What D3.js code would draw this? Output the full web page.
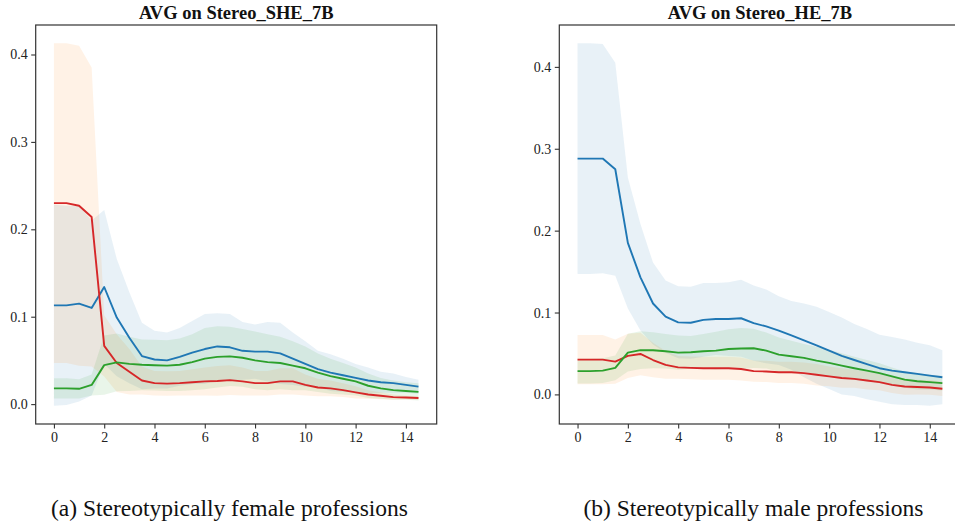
<!DOCTYPE html>
<html>
<head>
<meta charset="utf-8">
<script src="https://cdn.jsdelivr.net/npm/d3@7"></script>
<style>
  body { margin: 0; background: #fff; overflow: hidden; }
  svg { display: block; }
</style>
</head>
<body>
<script>
// layer steps on the x axis
const steps = [0, 0.5, 1, 1.5, 2, 2.5, 3, 3.5, 4, 4.5, 5, 5.5, 6, 6.5, 7, 7.5,
  8, 8.5, 9, 9.5, 10, 10.5, 11, 11.5, 12, 12.5, 13, 13.5, 14, 14.5];
const xTicks = [0, 2, 4, 6, 8, 10, 12, 14];
const yTicks = [0, 0.1, 0.2, 0.3, 0.4];

// (a) Stereo_SHE_7B : mean and std of each series
const sheBlue = [0.113, 0.113, 0.115, 0.110, 0.134, 0.099, 0.076, 0.055, 0.051, 0.050, 0.054, 0.059, 0.063, 0.066, 0.065,
  0.061, 0.060, 0.060, 0.058, 0.052, 0.046, 0.040, 0.036, 0.033, 0.030, 0.027, 0.025, 0.024, 0.022, 0.020];
const sheBlueStd = [0.115, 0.114, 0.112, 0.100, 0.088, 0.067, 0.052, 0.038, 0.033, 0.032, 0.033, 0.036, 0.040, 0.038, 0.038,
  0.033, 0.031, 0.034, 0.035, 0.030, 0.026, 0.021, 0.021, 0.019, 0.016, 0.015, 0.012, 0.011, 0.009, 0.008];
const sheGreen = [0.018, 0.018, 0.0175, 0.022, 0.0446, 0.0477, 0.046, 0.045, 0.0445, 0.044, 0.045, 0.048, 0.052, 0.054, 0.0546,
  0.053, 0.050, 0.048, 0.047, 0.044, 0.041, 0.036, 0.032, 0.029, 0.026, 0.021, 0.018, 0.016, 0.015, 0.014];
const sheGreenStd = [0.0115, 0.0115, 0.011, 0.012, 0.034, 0.033, 0.031, 0.029, 0.029, 0.029, 0.030, 0.032, 0.035, 0.035, 0.034,
  0.033, 0.033, 0.032, 0.030, 0.028, 0.025, 0.022, 0.020, 0.018, 0.016, 0.014, 0.012, 0.011, 0.010, 0.010];
const sheRed = [0.230, 0.230, 0.227, 0.214, 0.0667, 0.047, 0.037, 0.027, 0.024, 0.0235, 0.024, 0.025, 0.026, 0.0265, 0.0275,
  0.026, 0.024, 0.024, 0.026, 0.026, 0.022, 0.019, 0.018, 0.016, 0.0134, 0.011, 0.0095, 0.008, 0.0075, 0.007];
const sheRedStd = [0.183, 0.183, 0.183, 0.171, 0.035, 0.033, 0.026, 0.016, 0.014, 0.014, 0.014, 0.015, 0.016, 0.017, 0.017,
  0.016, 0.014, 0.014, 0.015, 0.015, 0.012, 0.010, 0.009, 0.008, 0.007, 0.005, 0.004, 0.003, 0.002, 0.002];

// (b) Stereo_HE_7B
const heBlue = [0.288, 0.288, 0.288, 0.275, 0.185, 0.143, 0.111, 0.095, 0.088, 0.0875, 0.091, 0.092, 0.092, 0.093, 0.087,
  0.083, 0.078, 0.072, 0.066, 0.060, 0.0535, 0.047, 0.042, 0.037, 0.032, 0.029, 0.027, 0.025, 0.023, 0.021];
const heBlueStd = [0.141, 0.141, 0.140, 0.130, 0.080, 0.065, 0.050, 0.044, 0.044, 0.044, 0.045, 0.044, 0.045, 0.047, 0.046,
  0.045, 0.042, 0.042, 0.045, 0.047, 0.047, 0.047, 0.044, 0.043, 0.041, 0.041, 0.040, 0.038, 0.037, 0.033];
const heGreen = [0.0284, 0.0284, 0.029, 0.0324, 0.051, 0.054, 0.054, 0.0527, 0.051, 0.0514, 0.0527, 0.0535, 0.0555, 0.056, 0.0563,
  0.0535, 0.0486, 0.0466, 0.0446, 0.0413, 0.0385, 0.0352, 0.032, 0.029, 0.026, 0.022, 0.018, 0.016, 0.015, 0.0138];
const heGreenStd = [0.015, 0.015, 0.015, 0.015, 0.023, 0.023, 0.022, 0.021, 0.021, 0.020, 0.021, 0.023, 0.024, 0.025, 0.024,
  0.022, 0.021, 0.019, 0.017, 0.017, 0.016, 0.015, 0.014, 0.013, 0.012, 0.011, 0.010, 0.010, 0.009, 0.009];
const heRed = [0.0425, 0.0425, 0.0425, 0.040, 0.047, 0.0494, 0.042, 0.036, 0.033, 0.0324, 0.032, 0.032, 0.032, 0.031, 0.0284,
  0.028, 0.027, 0.027, 0.026, 0.024, 0.022, 0.020, 0.019, 0.017, 0.015, 0.0117, 0.0097, 0.009, 0.0085, 0.0069];
const heRedStd = [0.030, 0.030, 0.030, 0.027, 0.027, 0.026, 0.021, 0.017, 0.014, 0.014, 0.014, 0.014, 0.014, 0.014, 0.013,
  0.013, 0.013, 0.013, 0.013, 0.013, 0.012, 0.012, 0.011, 0.011, 0.010, 0.010, 0.010, 0.009, 0.009, 0.009];

const titles = ["AVG on Stereo_SHE_7B", "AVG on Stereo_HE_7B"];
const captions = ["(a) Stereotypically female professions", "(b) Stereotypically male professions"];

const serif = "'Liberation Serif', 'Times New Roman', serif";

const svg = d3.select("body").append("svg")
    .attr("width", 955)
    .attr("height", 523)
    .attr("font-family", serif);

// band colour, line colour (bands follow the default cycle, lines skip orange)
const drawPanel = function(left, right, title, caption, series){
  const top = 25, bottom = 424;

  var lo = d3.min(series, s => d3.min(s.mean, (m, i) => m - s.std[i]));
  var hi = d3.max(series, s => d3.max(s.mean, (m, i) => m + s.std[i]));
  var pad = (hi - lo) * 0.05;

  var x = d3.scaleLinear()
    .domain([-0.725, 15.225])
    .range([left, right]);
  var y = d3.scaleLinear()
    .domain([lo - pad, hi + pad])
    .range([bottom, top]);

  const g = svg.append("g");

  const area = d3.area()
    .x((d, i) => x(steps[i]))
    .y0(d => y(d[0]))
    .y1(d => y(d[1]));
  const line = d3.line()
    .x((d, i) => x(steps[i]))
    .y(d => y(d));

  series.forEach(function(s){
    g.append("path")
      .datum(s.mean.map((m, i) => [m - s.std[i], m + s.std[i]]))
      .attr("fill", s.band)
      .attr("fill-opacity", 0.1)
      .attr("d", area);
  });

  series.forEach(function(s){
    g.append("path")
      .datum(s.mean)
      .attr("fill", "none")
      .attr("stroke", s.color)
      .attr("stroke-width", 1.9)
      .attr("stroke-linejoin", "round")
      .attr("d", line);
  });

  g.append("rect")
    .attr("x", left)
    .attr("y", top)
    .attr("width", right - left)
    .attr("height", bottom - top)
    .attr("fill", "none")
    .attr("stroke", "#333")
    .attr("stroke-width", 1.2);

  const xAxis = g.append("g")
    .attr("transform", `translate(0,${bottom})`)
    .call(d3.axisBottom(x).tickValues(xTicks).tickSize(4.5).tickPadding(3.5).tickFormat(d3.format("d")));
  const yAxis = g.append("g")
    .attr("transform", `translate(${left},0)`)
    .call(d3.axisLeft(y).tickValues(yTicks).tickSize(4.5).tickPadding(3.5).tickFormat(d3.format(".1f")));

  [xAxis, yAxis].forEach(function(a){
    a.select(".domain").remove();
    a.selectAll("line").attr("stroke", "#333").attr("stroke-width", 1.1);
    a.selectAll("text")
      .attr("fill", "#222")
      .attr("font-family", serif)
      .attr("font-size", 14);
  });

  g.append("text")
    .attr("x", (left + right) / 2)
    .attr("y", 19)
    .attr("text-anchor", "middle")
    .attr("font-weight", "bold")
    .attr("font-size", 18.5)
    .attr("fill", "#111")
    .text(title);

  g.append("text")
    .attr("x", caption.x)
    .attr("y", 516)
    .attr("text-anchor", "middle")
    .attr("font-size", 23.5)
    .attr("fill", "#111")
    .text(caption.text);
};

drawPanel(35.7, 436.7, titles[0], {x: 229.5, text: captions[0]}, [
  {mean: sheBlue, std: sheBlueStd, band: "#1f77b4", color: "#1f77b4"},
  {mean: sheRed, std: sheRedStd, band: "#ff7f0e", color: "#d62728"},
  {mean: sheGreen, std: sheGreenStd, band: "#2ca02c", color: "#2ca02c"}
]);

drawPanel(559.3, 960.6, titles[1], {x: 753.5, text: captions[1]}, [
  {mean: heBlue, std: heBlueStd, band: "#1f77b4", color: "#1f77b4"},
  {mean: heRed, std: heRedStd, band: "#ff7f0e", color: "#d62728"},
  {mean: heGreen, std: heGreenStd, band: "#2ca02c", color: "#2ca02c"}
]);
</script>
</body>
</html>
